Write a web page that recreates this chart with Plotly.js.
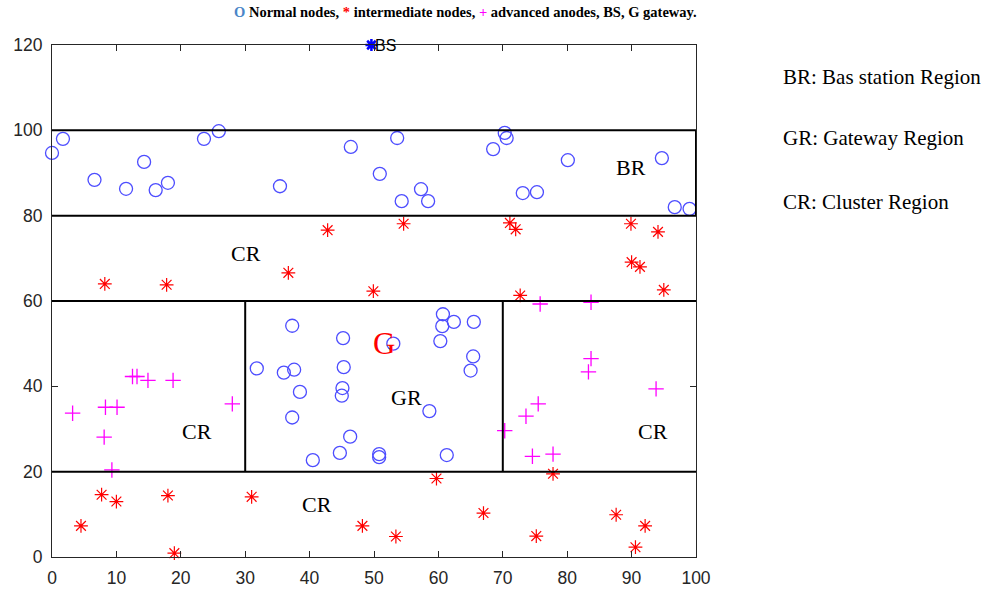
<!DOCTYPE html>
<html>
<head>
<meta charset="utf-8">
<script src="https://cdn.plot.ly/plotly-3.0.1.min.js"></script>
<style>html,body{margin:0;padding:0;background:#fff;}#chart{width:988px;height:594px;}</style>
</head>
<body>
<div id="chart"></div>
<script>
// Normal nodes (blue circles)
const normalX = [0.0, 1.7, 6.6, 11.5, 14.3, 16.1, 18.0, 23.6, 25.9, 35.4, 46.4, 50.9, 53.6, 54.3, 57.3, 58.4, 68.5, 70.3, 70.6, 73.1, 75.3, 80.1, 94.7, 96.7, 99.0,
  37.3, 45.2, 31.8, 36.0, 37.6, 45.3, 38.5, 45.1, 45.0, 37.3, 46.3, 44.7, 40.5,
  60.7, 62.4, 65.5, 60.6, 60.3, 53.0, 65.4, 65.0, 58.6, 50.8, 50.8, 61.3];
const normalY = [94.7, 98.0, 88.4, 86.3, 92.6, 86.0, 87.7, 98.0, 99.8, 86.9, 96.1, 89.8, 98.2, 83.4, 86.2, 83.4, 95.6, 99.4, 98.2, 85.3, 85.5, 93.0, 93.5, 82.0, 81.6,
  54.2, 51.3, 44.2, 43.2, 43.9, 44.5, 38.7, 39.6, 37.8, 32.7, 28.2, 24.4, 22.7,
  56.9, 55.1, 55.1, 54.1, 50.6, 50.0, 47.0, 43.7, 34.2, 24.1, 23.4, 23.9];
// Intermediate nodes (red asterisks)
const interX = [8.2, 17.8, 36.7, 42.8, 54.6, 49.9, 71.1, 72.0, 72.7, 89.9, 94.1, 90.0, 91.3, 95.0,
  7.7, 10.0, 18.0, 31.0, 4.5, 19.0, 48.2, 59.7, 77.8, 67.0, 53.4, 75.2, 87.6, 92.1, 90.6];
const interY = [64.0, 63.8, 66.6, 76.6, 78.1, 62.3, 78.3, 76.8, 61.3, 78.1, 76.2, 69.1, 68.0, 62.6,
  14.6, 13.0, 14.4, 14.1, 7.3, 0.9, 7.3, 18.4, 19.5, 10.3, 4.8, 4.9, 9.9, 7.3, 2.3];
// Advanced nodes (magenta plus)
const advX = [12.5, 13.2, 14.9, 18.8, 3.2, 8.3, 10.1, 8.1, 28.0, 9.3,
  75.8, 83.7, 83.7, 83.3, 93.8, 75.5, 73.6, 70.3, 74.6, 77.8];
const advY = [42.3, 42.3, 41.4, 41.4, 33.7, 35.1, 35.1, 28.1, 35.9, 20.4,
  59.3, 59.7, 46.5, 43.4, 39.4, 35.9, 33.0, 29.6, 23.6, 24.1];
// Base station and gateway
const bsX = [49.6], bsY = [120];
const gwX = [49.6], gwY = [50];
// Region boundaries
const hLineY = [100, 80, 60, 20];
const vLineX = [30, 70];
const vLineYRange = [20, 60];
const brRightX = 100, brYRange = [80, 100];
// Region labels
const regionLabels = ["BR", "CR", "CR", "GR", "CR", "CR"];
const regionLabelX = [89.9, 30.1, 22.5, 55.1, 93.3, 41.1];
const regionLabelY = [91.2, 71.2, 29.5, 37.3, 29.5, 12.2];
const legendTexts = ["BR: Bas station Region", "GR: Gateway Region", "CR: Cluster Region"];
const xTicks = [0,10,20,30,40,50,60,70,80,90,100];
const yTicks = [0,20,40,60,80,100,120];

const shapes = [];
hLineY.forEach(y => shapes.push({type:'line', xref:'x', yref:'y', x0:0, x1:100, y0:y, y1:y, line:{color:'#000', width:2}}));
vLineX.forEach(x => shapes.push({type:'line', xref:'x', yref:'y', x0:x, x1:x, y0:vLineYRange[0], y1:vLineYRange[1], line:{color:'#000', width:2}}));
shapes.push({type:'line', xref:'x', yref:'y', x0:brRightX, x1:brRightX, y0:brYRange[0], y1:brYRange[1], line:{color:'#000', width:2}});

const serif = 'Liberation Serif, Times New Roman, serif';
const annotations = [];
regionLabels.forEach((t,i) => annotations.push({x:regionLabelX[i], y:regionLabelY[i], xref:'x', yref:'y', text:t, showarrow:false, font:{family:serif, size:22, color:'#000'}}));
const legY = [0.9375, 0.818, 0.693];
legendTexts.forEach((t,i) => annotations.push({x:1.132, y:legY[i], xref:'paper', yref:'paper', xanchor:'left', yanchor:'middle', text:t, showarrow:false, font:{family:serif, size:21, color:'#000'}}));
annotations.push({x:gwX[0], y:gwY[0], xref:'x', yref:'y', xanchor:'left', yanchor:'middle', text:'G', showarrow:false, font:{family:serif, size:31, color:'#ff0000'}});
annotations.push({x:bsX[0], y:bsY[0], xref:'x', yref:'y', xanchor:'left', yanchor:'middle', xshift:2, text:'BS', showarrow:false, font:{family:'Liberation Sans, Arial, sans-serif', size:16, color:'#000'}});
annotations.push({x:0.642, y:1.0, xref:'paper', yref:'paper', yshift:33, xanchor:'center', yanchor:'middle', showarrow:false,
  text:'<span style="color:#4a86c8">O</span> Normal nodes, <span style="color:#ff0000">*</span> intermediate nodes, <span style="color:#ff00ff">+</span> advanced anodes, BS, G gateway.',
  font:{family:serif, size:14.5, color:'#000', weight:'bold'}});

const traces = [
  {x:normalX, y:normalY, mode:'markers', type:'scatter', cliponaxis:false, marker:{symbol:'circle-open', size:13, color:'#4d4dff', line:{width:1.3}}},
  {x:interX, y:interY, mode:'markers', type:'scatter', cliponaxis:false, marker:{symbol:'asterisk-open', size:11.5, color:'#ff0000', line:{width:1.2}}},
  {x:advX, y:advY, mode:'markers', type:'scatter', cliponaxis:false, marker:{symbol:'cross-thin-open', size:11, color:'#ff00ff', line:{width:1.3}}},
  {x:bsX, y:bsY, mode:'markers', type:'scatter', cliponaxis:false, marker:{symbol:'asterisk-open', size:10, color:'#0000ff', line:{width:2.5}}}
];

const axisCommon = {showgrid:false, zeroline:false, showline:true, linecolor:'#262626', linewidth:1, mirror:'ticks', ticks:'inside', ticklen:6, tickcolor:'#262626',
  ticklabelstandoff:5, tickfont:{family:'Liberation Sans, Arial, sans-serif', size:17.5, color:'#262626'}};
const layout = {
  width:988, height:594, paper_bgcolor:'#fff', plot_bgcolor:'#fff', showlegend:false,
  margin:{l:52, r:292, t:45, b:37},
  xaxis:Object.assign({}, axisCommon, {range:[0,100], tickvals:xTicks, ticktext:xTicks.map(String)}),
  yaxis:Object.assign({}, axisCommon, {range:[0,120], tickvals:yTicks, ticktext:yTicks.map(String)}),
  shapes:shapes, annotations:annotations
};
Plotly.newPlot('chart', traces, layout, {displayModeBar:false, staticPlot:true});
</script>
</body>
</html>
